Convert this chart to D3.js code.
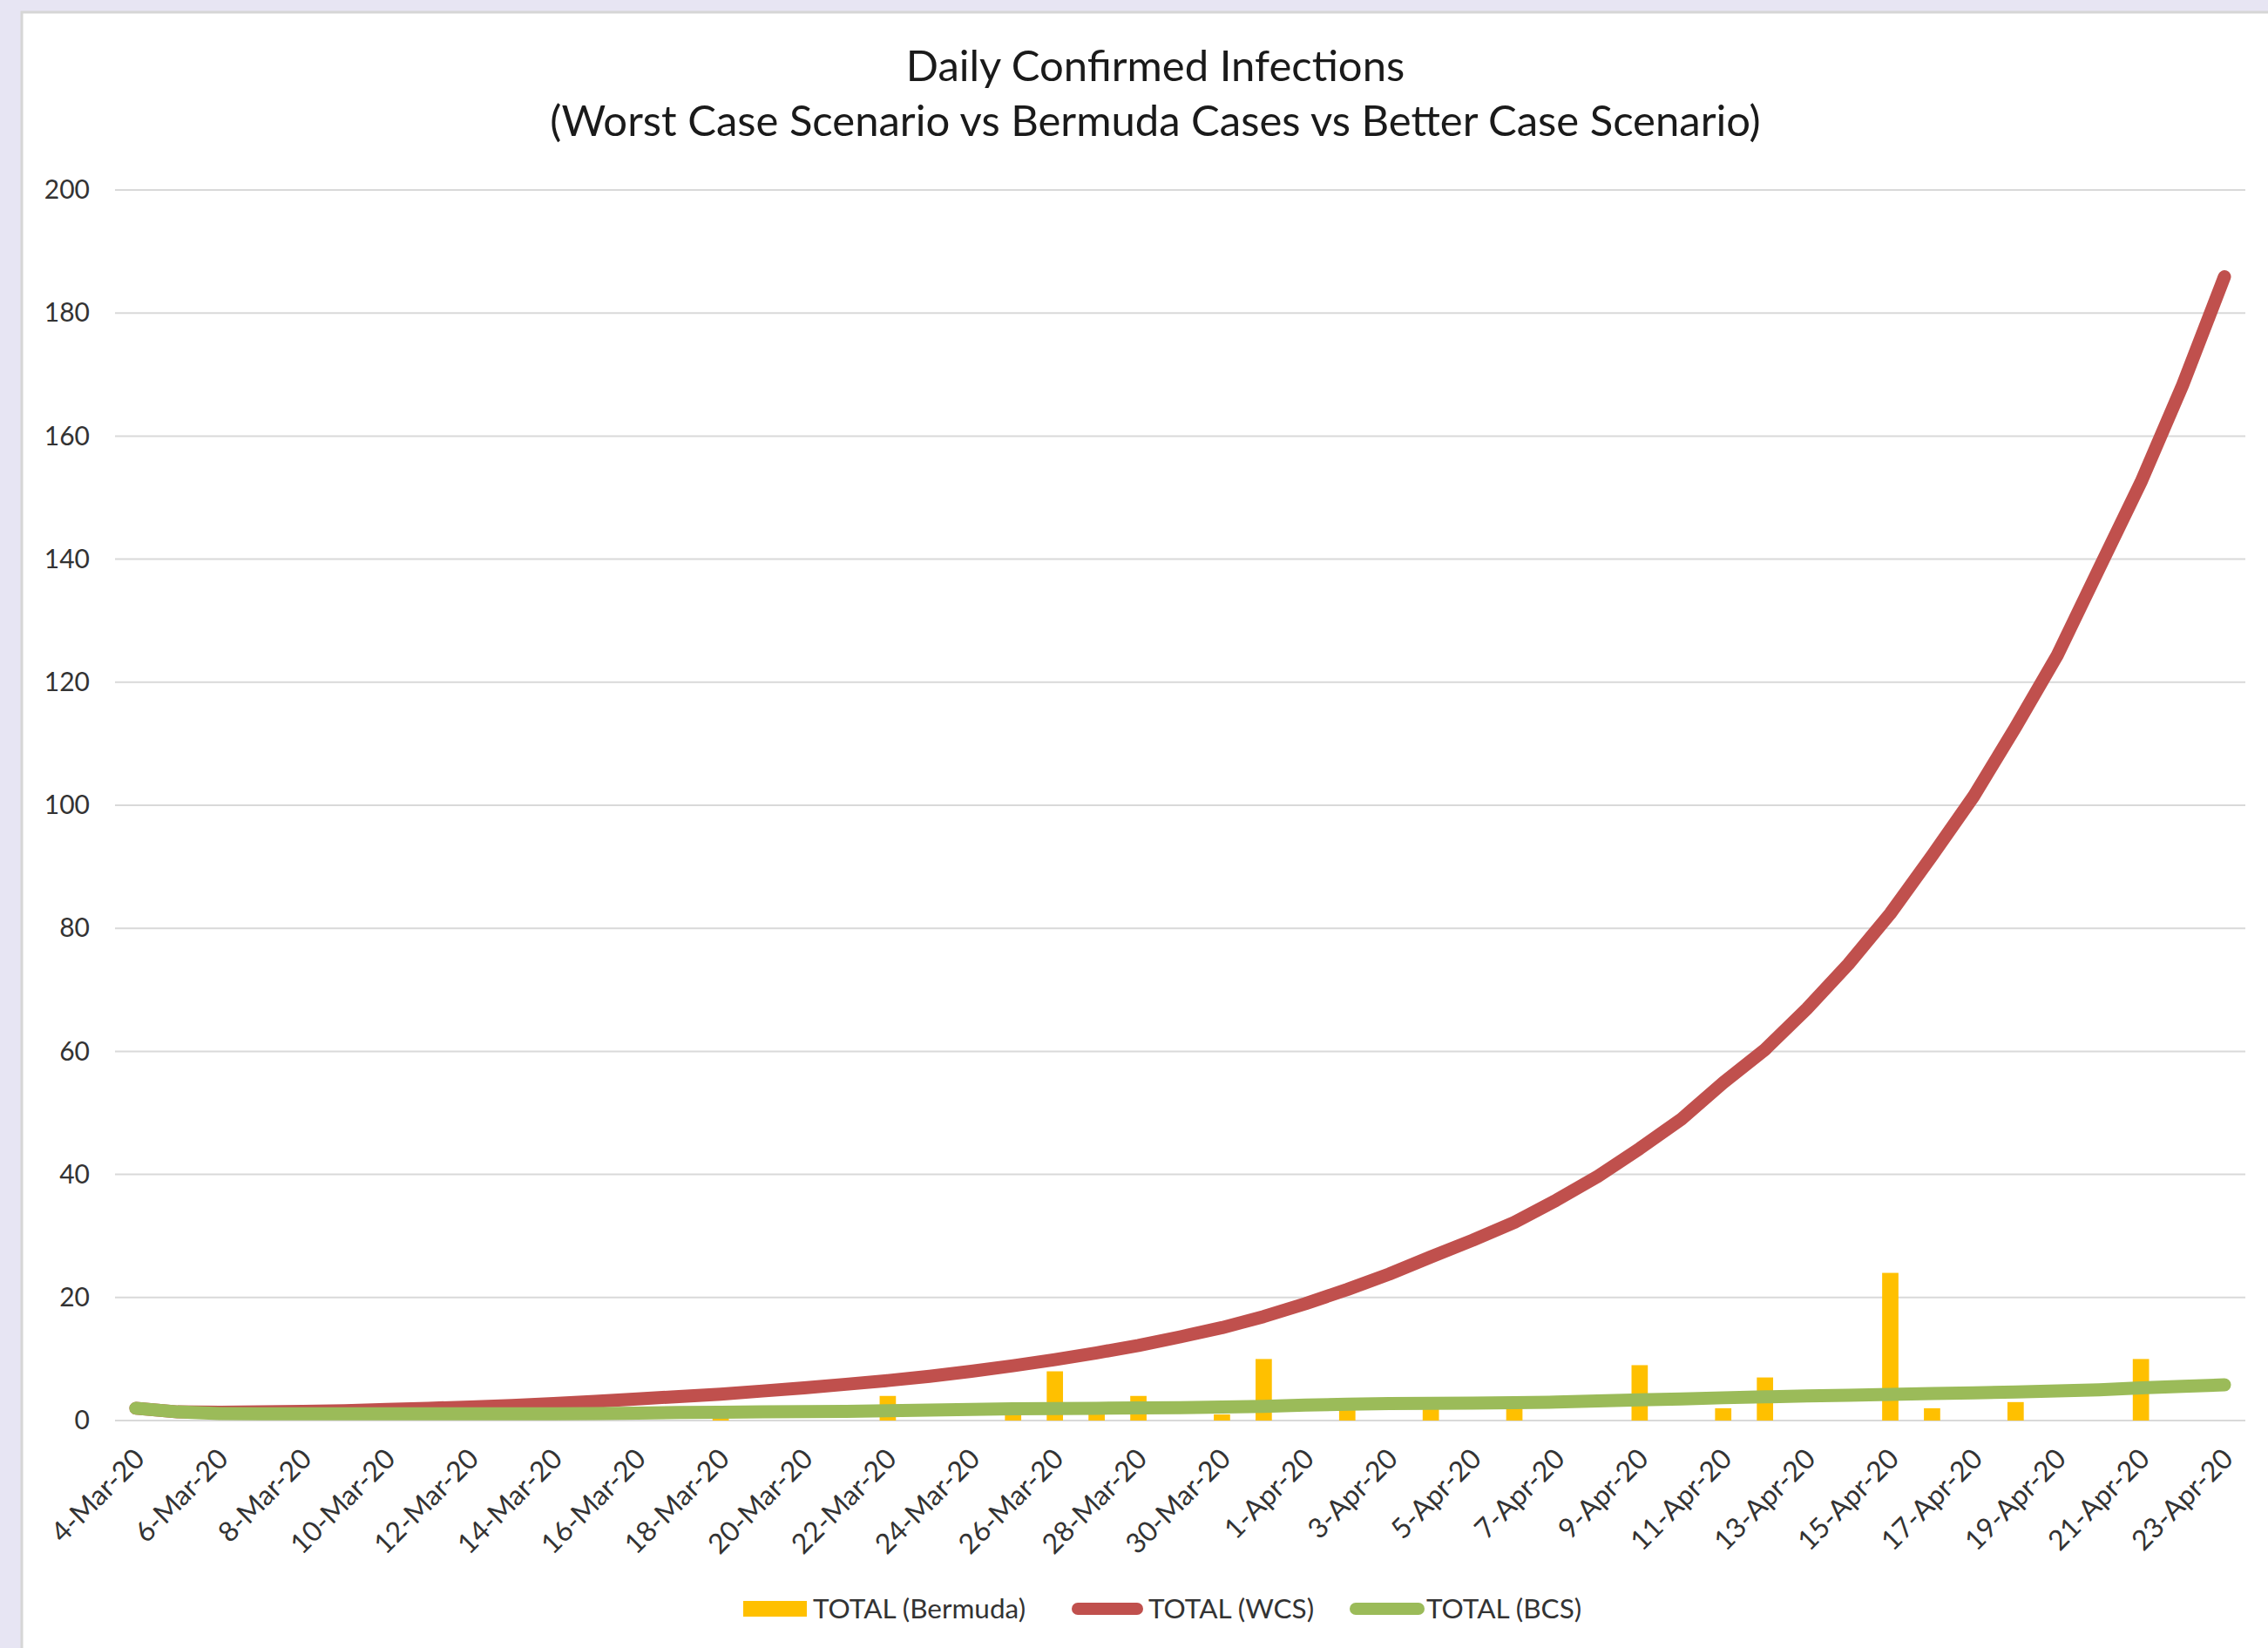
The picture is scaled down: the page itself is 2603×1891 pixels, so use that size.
<!DOCTYPE html>
<html>
<head>
<meta charset="utf-8">
<script src="https://cdn.jsdelivr.net/npm/d3@7"></script>
<style>
  body { margin: 0; background: #E7E5F3; }
  svg { display: block; }
  text { font-family: Lato, "Open Sans", sans-serif; }
</style>
</head>
<body>
<svg id="chart" width="2603" height="1891"></svg>
<script>
var dates = ["4-Mar-20","5-Mar-20","6-Mar-20","7-Mar-20","8-Mar-20","9-Mar-20","10-Mar-20","11-Mar-20",
  "12-Mar-20","13-Mar-20","14-Mar-20","15-Mar-20","16-Mar-20","17-Mar-20","18-Mar-20","19-Mar-20",
  "20-Mar-20","21-Mar-20","22-Mar-20","23-Mar-20","24-Mar-20","25-Mar-20","26-Mar-20","27-Mar-20",
  "28-Mar-20","29-Mar-20","30-Mar-20","31-Mar-20","1-Apr-20","2-Apr-20","3-Apr-20","4-Apr-20",
  "5-Apr-20","6-Apr-20","7-Apr-20","8-Apr-20","9-Apr-20","10-Apr-20","11-Apr-20","12-Apr-20",
  "13-Apr-20","14-Apr-20","15-Apr-20","16-Apr-20","17-Apr-20","18-Apr-20","19-Apr-20","20-Apr-20",
  "21-Apr-20","22-Apr-20","23-Apr-20"];

// daily Bermuda cases (bars)
var bermuda = [0,0,0,0,0,0,0,0,0,0,0,0,0,0,2,0,0,0,4,0,0,2,8,2,4,0,1,10,0,2,0,2,0,2,0,0,9,0,2,7,0,0,24,2,0,3,0,0,10,0,0];

// worst case scenario
var wcs = [2.0,1.4,1.35,1.4,1.5,1.6,1.8,2.0,2.2,2.45,2.75,3.1,3.5,3.9,4.3,4.8,5.3,5.9,6.5,7.2,8.0,
  8.9,9.9,11.0,12.2,13.6,15.1,16.9,19.0,21.3,23.8,26.6,29.3,32.2,35.8,39.7,44.2,49.0,54.9,60.3,
  66.9,74.2,82.4,91.8,101.5,112.7,124.4,138.5,152.5,168.3,185.9];

// better case scenario
var bcs = [2.0,1.4,1.15,1.1,1.1,1.1,1.1,1.1,1.1,1.1,1.1,1.15,1.2,1.3,1.35,1.4,1.45,1.5,1.6,1.7,1.8,
  1.9,1.95,2.0,2.05,2.1,2.2,2.3,2.5,2.65,2.75,2.8,2.85,2.9,3.0,3.2,3.35,3.5,3.7,3.85,4.0,4.1,
  4.25,4.4,4.5,4.65,4.8,5.0,5.3,5.55,5.8];

var yTicks = [0,20,40,60,80,100,120,140,160,180,200];

var svg = d3.select("#chart");

// white chart area with grey edge
svg.append("rect").attr("x", 25).attr("y", 14).attr("width", 2603).attr("height", 1891)
  .attr("fill", "#fff").attr("stroke", "#D6D6D6").attr("stroke-width", 3);

var x = d3.scaleBand().domain(dates).range([132, 2577]).paddingInner(0.61).paddingOuter(0.305);
var y = d3.scaleLinear().domain([0, 200]).range([1630, 218]);
function cx(d) { return x(d) + x.bandwidth() / 2; }

// title
svg.append("text").attr("x", 1326).attr("y", 93).attr("text-anchor", "middle")
  .attr("font-size", 49).attr("fill", "#1a1a1a").text("Daily Confirmed Infections");
svg.append("text").attr("x", 1326).attr("y", 156).attr("text-anchor", "middle")
  .attr("font-size", 49).attr("fill", "#1a1a1a")
  .text("(Worst Case Scenario vs Bermuda Cases vs Better Case Scenario)");

// gridlines
svg.append("g").selectAll("line").data(yTicks).enter().append("line")
  .attr("x1", 132).attr("x2", 2577)
  .attr("y1", function(d) { return y(d); }).attr("y2", function(d) { return y(d); })
  .attr("stroke", "#D9D9D9").attr("stroke-width", 2);

// y axis labels
var yAxis = d3.axisLeft(y).tickValues(yTicks).tickSize(0).tickPadding(0);
var gy = svg.append("g").attr("transform", "translate(103,0)").call(yAxis);
gy.select(".domain").remove();
gy.selectAll("text").attr("font-size", 30).attr("fill", "#333")
  .style("font-family", "Lato, 'Open Sans', sans-serif");

// x axis labels
var xAxis = d3.axisBottom(x).tickValues(dates.filter(function(d, i) { return i % 2 === 0; }))
  .tickSize(0).tickPadding(0);
var gx = svg.append("g").attr("transform", "translate(0,1668)").call(xAxis);
gx.select(".domain").remove();
gx.selectAll("text")
  .attr("font-size", 32).attr("fill", "#333")
  .style("font-family", "Lato, 'Open Sans', sans-serif")
  .attr("text-anchor", "end").attr("dy", "0.35em").attr("y", 0)
  .attr("transform", "translate(4,0) rotate(-45)");

// bars
svg.append("g").selectAll("rect").data(dates).enter().append("rect")
  .attr("x", function(d) { return x(d); })
  .attr("width", x.bandwidth())
  .attr("y", function(d, i) { return y(bermuda[i]); })
  .attr("height", function(d, i) { return y(0) - y(bermuda[i]); })
  .attr("fill", "#FFC000");

var line = d3.line().x(function(d) { return cx(d[0]); }).y(function(d) { return y(d[1]); });

svg.append("path").datum(dates.map(function(d, i) { return [d, wcs[i]]; }))
  .attr("d", line).attr("fill", "none").attr("stroke", "#C0504D").attr("stroke-width", 15)
  .attr("stroke-linecap", "round").attr("stroke-linejoin", "round");

svg.append("path").datum(dates.map(function(d, i) { return [d, bcs[i]]; }))
  .attr("d", line).attr("fill", "none").attr("stroke", "#9BBB59").attr("stroke-width", 15)
  .attr("stroke-linecap", "round").attr("stroke-linejoin", "round");

// legend
var ly = 1846;
var legend = svg.append("g");
legend.append("rect").attr("x", 853).attr("y", ly - 9).attr("width", 73).attr("height", 18).attr("fill", "#FFC000");
legend.append("text").attr("x", 933).attr("y", ly).attr("dy", "0.35em").attr("font-size", 31.5)
  .attr("fill", "#333").text("TOTAL (Bermuda)");
legend.append("line").attr("x1", 1237).attr("x2", 1305).attr("y1", ly).attr("y2", ly)
  .attr("stroke", "#C0504D").attr("stroke-width", 14).attr("stroke-linecap", "round");
legend.append("text").attr("x", 1318).attr("y", ly).attr("dy", "0.35em").attr("font-size", 31.5)
  .attr("fill", "#333").text("TOTAL (WCS)");
legend.append("line").attr("x1", 1556).attr("x2", 1628).attr("y1", ly).attr("y2", ly)
  .attr("stroke", "#9BBB59").attr("stroke-width", 14).attr("stroke-linecap", "round");
legend.append("text").attr("x", 1637).attr("y", ly).attr("dy", "0.35em").attr("font-size", 31.5)
  .attr("fill", "#333").text("TOTAL (BCS)");
</script>
</body>
</html>
